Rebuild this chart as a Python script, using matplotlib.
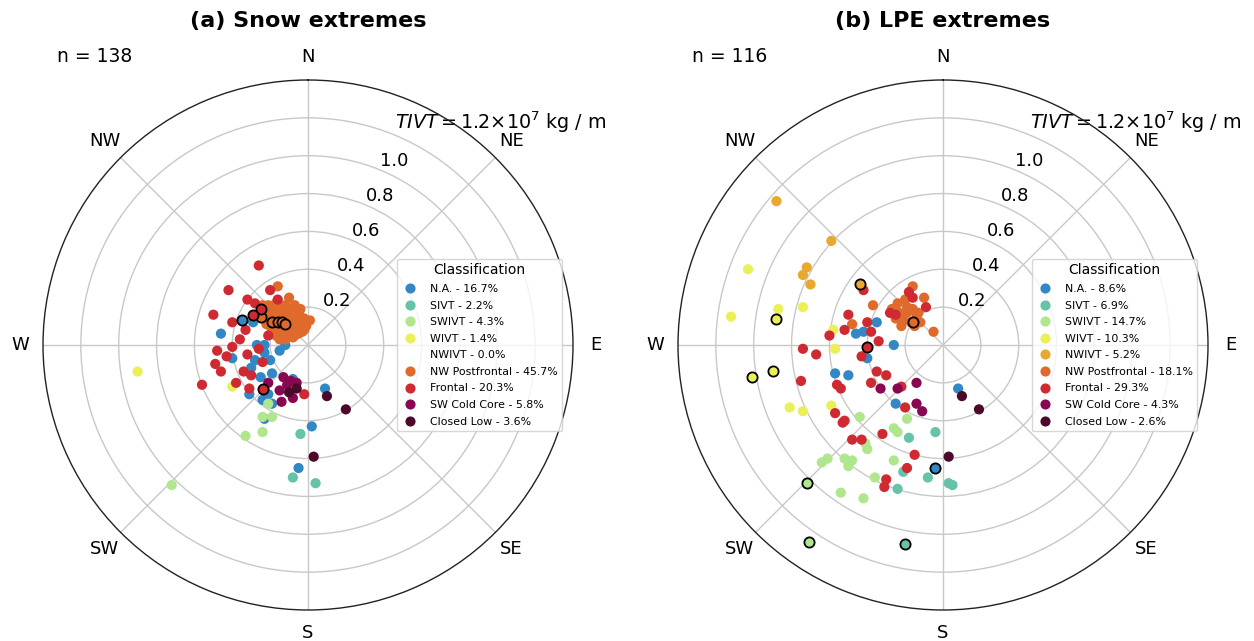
import numpy as np
import matplotlib
matplotlib.use("Agg")
import matplotlib.pyplot as plt
from matplotlib.lines import Line2D

CLASSES = ["N.A.", "SIVT", "SWIVT", "WIVT", "NWIVT", "NW Postfrontal",
           "Frontal", "SW Cold Core", "Closed Low"]
COLORS = ["#3288c4", "#66c2a8", "#b0e68e", "#ebf059", "#e8a92e", "#df6a2c",
          "#cf2a31", "#880750", "#4b0a2b"]
SNOW_PCT = [16.7, 2.2, 4.3, 1.4, 0.0, 45.7, 20.3, 5.8, 3.6]
LPE_PCT = [8.6, 6.9, 14.7, 10.3, 5.2, 18.1, 29.3, 4.3, 2.6]
SNOW_N = 138
LPE_N = 116

# events: (u eastward, v northward, highlighted) of TIVT in 10^7 kg/m
snow_na = [(-0.35, 0.13, 1), (-0.46, 0.06, 0), (-0.29, 0.12, 0), (-0.27, 0.00, 0),
           (-0.23, 0.00, 0), (-0.23, -0.04, 0), (-0.15, -0.03, 0), (-0.40, -0.07, 0),
           (-0.30, -0.12, 0), (-0.25, -0.17, 0), (-0.19, -0.15, 0), (-0.08, -0.18, 0),
           (0.09, -0.23, 0), (-0.24, -0.29, 0), (-0.19, -0.31, 0), (-0.23, -0.39, 0),
           (0.02, -0.43, 0), (-0.05, -0.65, 0), (-0.28, -0.08, 0), (-0.21, -0.26, 0),
           (-0.20, -0.08, 0), (-0.12, 0.00, 0), (-0.31, -0.26, 0)]
snow_sivt = [(-0.04, -0.47, 0), (-0.08, -0.70, 0), (0.04, -0.73, 0)]
snow_swivt = [(-0.21, -0.31, 0), (-0.24, -0.38, 0), (-0.19, -0.38, 0),
              (-0.24, -0.46, 0), (-0.33, -0.48, 0), (-0.72, -0.74, 0)]
snow_wivt = [(-0.90, -0.14, 0), (-0.40, -0.22, 0)]
snow_nwivt = []
snow_nwpf = [(-0.16, 0.31, 0), (-0.10, 0.25, 0), (-0.19, 0.12, 1), (-0.16, 0.12, 1),
             (-0.14, 0.12, 1), (-0.12, 0.11, 1), (-0.25, 0.15, 1),
             (-0.24, 0.21, 0), (-0.21, 0.21, 0), (-0.17, 0.22, 0), (-0.23, 0.19, 0),
             (-0.15, 0.20, 0), (-0.12, 0.19, 0), (-0.08, 0.19, 0), (-0.20, 0.17, 0),
             (-0.17, 0.17, 0), (-0.13, 0.16, 0), (-0.10, 0.17, 0), (-0.06, 0.16, 0),
             (-0.22, 0.15, 0), (-0.11, 0.15, 0), (-0.07, 0.14, 0), (-0.04, 0.15, 0),
             (-0.02, 0.14, 0), (-0.21, 0.13, 0), (-0.08, 0.13, 0), (-0.05, 0.12, 0),
             (-0.03, 0.13, 0), (-0.01, 0.12, 0), (-0.20, 0.10, 0), (-0.17, 0.09, 0),
             (-0.10, 0.10, 0), (-0.06, 0.10, 0), (-0.04, 0.10, 0), (-0.01, 0.10, 0),
             (-0.19, 0.07, 0), (-0.15, 0.07, 0), (-0.12, 0.08, 0), (-0.09, 0.07, 0),
             (-0.06, 0.08, 0), (-0.03, 0.07, 0), (-0.17, 0.05, 0), (-0.14, 0.05, 0),
             (-0.11, 0.06, 0), (-0.07, 0.05, 0), (-0.05, 0.06, 0), (-0.15, 0.03, 0),
             (-0.12, 0.03, 0), (-0.08, 0.04, 0), (-0.23, 0.17, 0), (-0.19, 0.20, 0),
             (-0.12, 0.21, 0), (-0.07, 0.21, 0), (-0.04, 0.19, 0), (0.01, 0.13, 0),
             (-0.19, 0.14, 0), (-0.14, 0.14, 0), (-0.10, 0.12, 0), (-0.07, 0.17, 0),
             (-0.16, 0.10, 0), (-0.13, 0.09, 0), (-0.22, 0.11, 0), (-0.02, 0.08, 0)]
snow_frontal = [(-0.26, 0.42, 0), (-0.42, 0.29, 0), (-0.50, 0.16, 0), (-0.40, 0.12, 0),
                (-0.40, -0.01, 0), (-0.43, -0.06, 0), (-0.49, -0.10, 0), (-0.56, -0.21, 0),
                (-0.34, -0.14, 0), (-0.30, -0.16, 0), (-0.38, -0.20, 0), (-0.31, -0.23, 0),
                (-0.26, -0.02, 0), (-0.21, 0.05, 0), (-0.28, 0.22, 0), (-0.16, 0.24, 0),
                (-0.25, 0.19, 1), (-0.29, 0.16, 1), (-0.02, -0.26, 0), (-0.24, -0.23, 1),
                (-0.24, -0.09, 0), (-0.32, 0.24, 0), (-0.36, 0.03, 0), (-0.48, -0.03, 0),
                (-0.32, -0.05, 0), (-0.33, 0.08, 0), (-0.20, 0.29, 0), (-0.46, -0.14, 0)]
snow_swcc = [(-0.21, -0.20, 0), (-0.13, -0.17, 0), (-0.11, -0.21, 0), (-0.09, -0.19, 0),
             (-0.06, -0.20, 0), (-0.08, -0.28, 0), (-0.14, -0.30, 0), (-0.15, -0.24, 0)]
snow_cl = [(-0.06, -0.23, 0), (0.10, -0.27, 0), (0.20, -0.34, 0), (0.03, -0.59, 0),
           (-0.10, -0.25, 0)]

lpe_na = [(-0.35, 0.12, 0), (-0.46, 0.06, 0), (-0.42, 0.07, 0), (-0.26, 0.00, 0),
          (-0.40, -0.07, 0), (-0.57, -0.15, 0), (-0.50, -0.16, 0), (-0.25, -0.31, 0),
          (0.08, -0.23, 0), (-0.04, -0.65, 1)]
lpe_sivt = [(-0.18, -0.49, 0), (-0.04, -0.46, 0), (-0.21, -0.67, 0), (-0.08, -0.70, 0),
            (0.03, -0.73, 0), (0.05, -0.74, 0), (-0.24, -0.76, 0), (-0.20, -1.05, 1)]
lpe_swivt = [(-0.44, -0.38, 0), (-0.19, -0.39, 0), (-0.26, -0.44, 0), (-0.24, -0.46, 0),
             (-0.41, -0.52, 0), (-0.40, -0.55, 0), (-0.64, -0.62, 0), (-0.61, -0.60, 0),
             (-0.52, -0.60, 0), (-0.48, -0.61, 0), (-0.50, -0.64, 0), (-0.26, -0.61, 0),
             (-0.36, -0.70, 0), (-0.54, -0.78, 0), (-0.42, -0.81, 0), (-0.72, -0.73, 1),
             (-0.71, -1.04, 1)]
lpe_wivt = [(-1.03, 0.40, 0), (-1.12, 0.15, 0), (-0.87, 0.19, 0), (-0.88, 0.14, 1),
            (-0.74, 0.20, 0), (-0.58, 0.08, 0), (-0.57, -0.02, 0), (-0.90, -0.14, 1),
            (-1.01, -0.17, 1), (-0.81, -0.33, 0), (-0.74, -0.35, 0), (-0.59, -0.32, 0)]
lpe_nwivt = [(-0.88, 0.76, 0), (-0.59, 0.55, 0), (-0.72, 0.41, 0), (-0.74, 0.37, 0),
             (-0.70, 0.32, 0), (-0.44, 0.32, 1)]
lpe_nwpf = [(-0.16, 0.31, 0), (-0.10, 0.25, 0), (-0.37, 0.21, 0), (-0.48, 0.11, 0),
            (-0.05, 0.07, 0), (-0.16, 0.12, 1), (-0.24, 0.22, 0), (-0.23, 0.17, 0),
            (-0.19, 0.17, 0), (-0.21, 0.13, 0), (-0.17, 0.12, 0), (-0.14, 0.15, 0),
            (-0.12, 0.12, 0), (-0.16, 0.19, 0), (-0.19, 0.20, 0), (-0.27, 0.19, 0),
            (-0.20, 0.24, 0), (-0.15, 0.10, 0), (-0.22, 0.10, 0), (-0.13, 0.17, 0),
            (-0.25, 0.14, 0)]
lpe_frontal = [(-0.42, 0.29, 0), (-0.50, 0.16, 0), (-0.52, 0.08, 0), (-0.60, 0.05, 0),
               (-0.40, 0.12, 0), (-0.38, 0.07, 0), (-0.34, 0.02, 0), (-0.40, -0.01, 1),
               (-0.74, -0.02, 0), (-0.67, -0.05, 0), (-0.43, -0.06, 0), (-0.75, -0.19, 0),
               (-0.56, -0.21, 0), (-0.35, -0.14, 0), (-0.30, -0.16, 0), (-0.38, -0.20, 0),
               (-0.22, -0.22, 0), (-0.20, -0.33, 0), (-0.57, -0.36, 0), (-0.52, -0.40, 0),
               (-0.53, -0.41, 0), (-0.48, -0.50, 0), (-0.43, -0.50, 0), (-0.32, -0.47, 0),
               (-0.15, -0.58, 0), (-0.19, -0.65, 0), (-0.30, -0.71, 0), (-0.31, -0.75, 0),
               (-0.16, 0.25, 0), (-0.09, 0.20, 0), (-0.28, 0.17, 0), (-0.25, 0.16, 0),
               (-0.18, 0.28, 0), (-0.54, -0.23, 0)]
lpe_swcc = [(-0.33, -0.23, 0), (-0.24, -0.23, 0), (-0.14, -0.20, 0), (-0.14, -0.31, 0),
            (-0.11, -0.35, 0)]
lpe_cl = [(0.10, -0.27, 0), (0.19, -0.34, 0), (0.03, -0.59, 0)]

SNOW = [snow_na, snow_sivt, snow_swivt, snow_wivt, snow_nwivt, snow_nwpf,
        snow_frontal, snow_swcc, snow_cl]
LPE = [lpe_na, lpe_sivt, lpe_swivt, lpe_wivt, lpe_nwivt, lpe_nwpf,
       lpe_frontal, lpe_swcc, lpe_cl]

DIRS = ["N", "NE", "E", "SE", "S", "SW", "W", "NW"]
RTICKS = [0.2, 0.4, 0.6, 0.8, 1.0, 1.2]
RLABELS = ["0.2", "0.4", "0.6", "0.8", "1.0",
           r"$TIVT = 1.2{\times}10^{7}$ kg / m"]

W, H = 1254, 641
fig = plt.figure(figsize=(W / 100, H / 100), dpi=100)

R_PX = 265
CY = 345


def panel(cx, data, pcts, n, title, leg_x):
    ax = fig.add_axes([(cx - R_PX) / W, (H - CY - R_PX) / H, 2 * R_PX / W, 2 * R_PX / H],
                      projection="polar")
    ax.set_theta_zero_location("N")
    ax.set_theta_direction(-1)
    hl_layers = []
    for pts, col in zip(data, COLORS):
        if not pts:
            continue
        arr = np.array(pts, dtype=float)
        u, v, hl = arr[:, 0], arr[:, 1], arr[:, 2] > 0
        th = np.arctan2(u, v)
        r = np.hypot(u, v)
        ax.scatter(th[~hl], r[~hl], s=54, c=col, edgecolors="none", zorder=3)
        if hl.any():
            hl_layers.append((th[hl], r[hl], col))
    for th, r, col in hl_layers:
        ax.scatter(th, r, s=54, c=col, edgecolors="black", linewidths=1.3, zorder=4)
    ax.set_rlim(0, 1.4)
    ax.set_rticks(RTICKS)
    ax.set_yticklabels(RLABELS, fontsize=13)
    ax.get_yticklabels()[-1].set_fontsize(13.8)
    ax.set_rlabel_position(22.5)
    ax.set_thetagrids(np.arange(0, 360, 45), labels=DIRS, fontsize=13)
    ax.tick_params(axis="x", pad=6)
    ax.grid(color="#c8c8c8", linewidth=1.0)
    ax.spines["polar"].set_color("#222222")
    ax.spines["polar"].set_linewidth(1.0)

    handles = []
    labels = []
    for pts, col, name, p in zip(data, COLORS, CLASSES, pcts):
        handles.append(Line2D([], [], marker="o", linestyle="", markersize=7.3,
                              markerfacecolor=col, markeredgecolor="none",
                              alpha=1.0 if pts else 0.0))
        labels.append(f"{name} - {p:.1f}%")
    leg = ax.legend(handles, labels, loc="upper left",
                    bbox_to_anchor=(leg_x / W, 1 - 259 / H),
                    bbox_transform=fig.transFigure, borderaxespad=0,
                    title="Classification", fontsize=7.9, title_fontsize=10,
                    labelspacing=0.6, handletextpad=1.1, handlelength=1.5,
                    borderpad=0.4)
    leg.set_zorder(10)

    fig.text(cx / W, 1 - 21 / H, title, ha="center", va="center",
             fontsize=16, fontweight="bold")
    fig.text((cx - 251) / W, 1 - 57 / H, f"n = {n}", ha="left", va="center",
             fontsize=13.5)
    return ax


panel(308, SNOW, SNOW_PCT, SNOW_N, "(a) Snow extremes", 397)
panel(943, LPE, LPE_PCT, LPE_N, "(b) LPE extremes", 1032)

fig.savefig("out.png", dpi=100)
